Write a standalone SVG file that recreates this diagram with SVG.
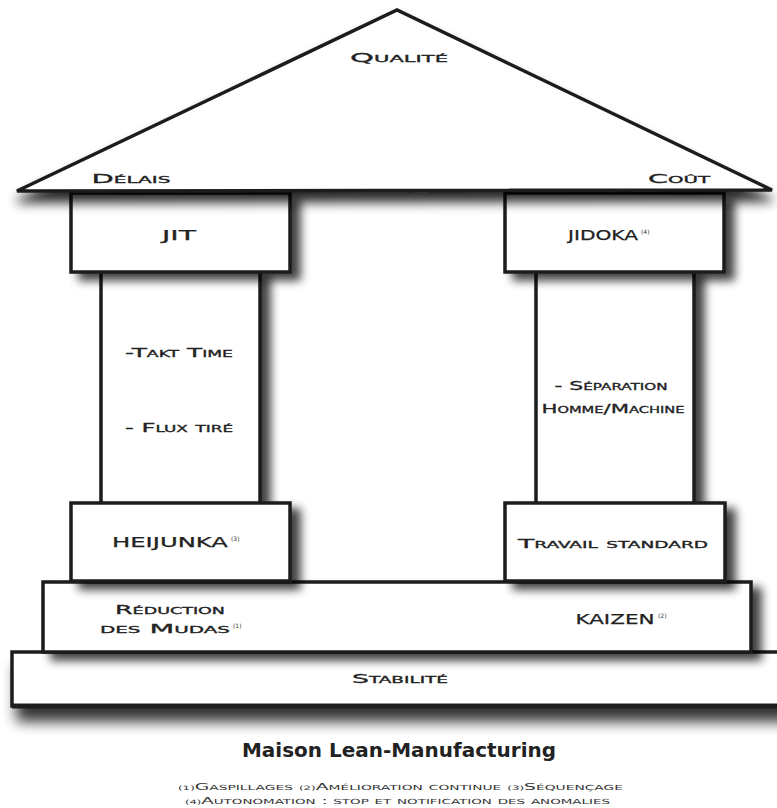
<svg xmlns="http://www.w3.org/2000/svg" width="777" height="808" viewBox="0 0 777 808">
<defs>
<filter id="sh" x="-20%" y="-20%" width="150%" height="160%">
<feGaussianBlur in="SourceAlpha" stdDeviation="5"/>
<feOffset dx="9" dy="7" result="b"/>
<feComponentTransfer><feFuncA type="linear" slope="0.75"/></feComponentTransfer>
<feMerge><feMergeNode/><feMergeNode in="SourceGraphic"/></feMerge>
</filter>
<filter id="shr" x="-10%" y="-20%" width="120%" height="160%">
<feGaussianBlur in="SourceAlpha" stdDeviation="6"/>
<feOffset dx="0" dy="10"/>
<feComponentTransfer><feFuncA type="linear" slope="0.85"/></feComponentTransfer>
<feMerge><feMergeNode/><feMergeNode in="SourceGraphic"/></feMerge>
</filter>
<filter id="shb" x="-10%" y="-30%" width="130%" height="200%">
<feGaussianBlur in="SourceAlpha" stdDeviation="7"/>
<feOffset dx="6" dy="14"/>
<feComponentTransfer><feFuncA type="linear" slope="0.8"/></feComponentTransfer>
<feMerge><feMergeNode/><feMergeNode in="SourceGraphic"/></feMerge>
</filter>
</defs>
<style>
.b{fill:#fff;stroke:#1c1c1c;stroke-width:3.5;stroke-linejoin:miter}
.t{font-family:"DejaVu Sans","Liberation Sans",sans-serif;font-variant:small-caps;fill:#222;stroke:#222;stroke-width:0.3;font-size:13px;text-anchor:middle}
.u{font-family:"DejaVu Sans","Liberation Sans",sans-serif;fill:#222;stroke:#222;stroke-width:0.25;font-size:14px;text-anchor:middle}
.s{font-family:"DejaVu Sans","Liberation Sans",sans-serif;fill:#333;font-size:6px}
.f{font-family:"DejaVu Sans","Liberation Sans",sans-serif;font-variant:small-caps;fill:#333;font-size:9.5px}
.fs{font-size:6px}
</style>
<rect width="777" height="808" fill="#fff"/>

<g id="stabilite">
<rect class="b" x="12" y="652" width="780" height="54" filter="url(#shb)"/>
<line x1="12" y1="706" x2="780" y2="706" stroke="#1c1c1c" stroke-width="5"/>
<text class="t" x="400" y="683" textLength="96" lengthAdjust="spacingAndGlyphs">Stabilité</text>
</g>

<g id="base">
<rect class="b" x="43" y="582" width="708" height="70" filter="url(#sh)"/>
<text class="t" x="170" y="614" textLength="110" lengthAdjust="spacingAndGlyphs">Réduction</text>
<text class="t" x="165" y="633" textLength="130" lengthAdjust="spacingAndGlyphs">des Mudas</text>
<text class="s" x="233" y="628">(1)</text>
<text class="u" x="615" y="624" textLength="79" lengthAdjust="spacingAndGlyphs">KAIZEN</text>
<text class="s" x="658" y="618">(2)</text>
</g>

<g id="pilier-gauche">
<rect class="b" x="101" y="270" width="159" height="234" filter="url(#sh)"/>
<text class="t" x="179" y="357" textLength="108" lengthAdjust="spacingAndGlyphs">-Takt Time</text>
<text class="t" x="179" y="432" textLength="108" lengthAdjust="spacingAndGlyphs">- Flux tiré</text>
</g>

<g id="pilier-droit">
<rect class="b" x="536" y="270" width="158" height="234" filter="url(#sh)"/>
<text class="t" x="611" y="390" textLength="113" lengthAdjust="spacingAndGlyphs">- Séparation</text>
<text class="t" x="613" y="413" textLength="143" lengthAdjust="spacingAndGlyphs">Homme/Machine</text>
</g>

<g id="heijunka">
<rect class="b" x="71" y="503" width="219" height="78" filter="url(#sh)"/>
<text class="u" x="170" y="547" textLength="116" lengthAdjust="spacingAndGlyphs">HEIJUNKA</text>
<text class="s" x="231" y="541">(3)</text>
</g>

<g id="travail-standard">
<rect class="b" x="505" y="503" width="220" height="78" filter="url(#sh)"/>
<text class="t" x="613" y="548" textLength="190" lengthAdjust="spacingAndGlyphs">Travail standard</text>
</g>

<g id="jit">
<rect class="b" x="71" y="193" width="219" height="79" filter="url(#sh)"/>
<text class="u" x="179" y="240" textLength="34" lengthAdjust="spacingAndGlyphs">JIT</text>
</g>

<g id="jidoka">
<rect class="b" x="505" y="193" width="219" height="79" filter="url(#sh)"/>
<text class="u" x="603" y="240" textLength="70" lengthAdjust="spacingAndGlyphs">JIDOKA</text>
<text class="s" x="641" y="234">(4)</text>
</g>

<g id="toit">
<polygon class="b" points="17,191 397,10 772,190" filter="url(#shr)"/>
<text class="t" x="399" y="62" textLength="98" lengthAdjust="spacingAndGlyphs">Qualité</text>
<text class="t" x="131" y="183" textLength="79" lengthAdjust="spacingAndGlyphs">Délais</text>
<text class="t" x="679" y="183" textLength="62" lengthAdjust="spacingAndGlyphs">Coût</text>
</g>

<g id="connecteurs"></g>

<g id="legende">
<text x="399" y="757" text-anchor="middle" font-family="'DejaVu Sans','Liberation Sans',sans-serif" font-weight="bold" font-size="19" fill="#222" textLength="314" lengthAdjust="spacingAndGlyphs">Maison Lean-Manufacturing</text>
<text class="f" x="178" y="790" textLength="445" lengthAdjust="spacingAndGlyphs"><tspan class="fs">(1)</tspan>Gaspillages  <tspan class="fs">(2)</tspan>Amélioration continue  <tspan class="fs">(3)</tspan>Séquençage</text>
<text class="f" x="185" y="804" font-size="9" textLength="425" lengthAdjust="spacingAndGlyphs"><tspan class="fs">(4)</tspan>Autonomation : stop et notification des anomalies</text>
</g>
</svg>
